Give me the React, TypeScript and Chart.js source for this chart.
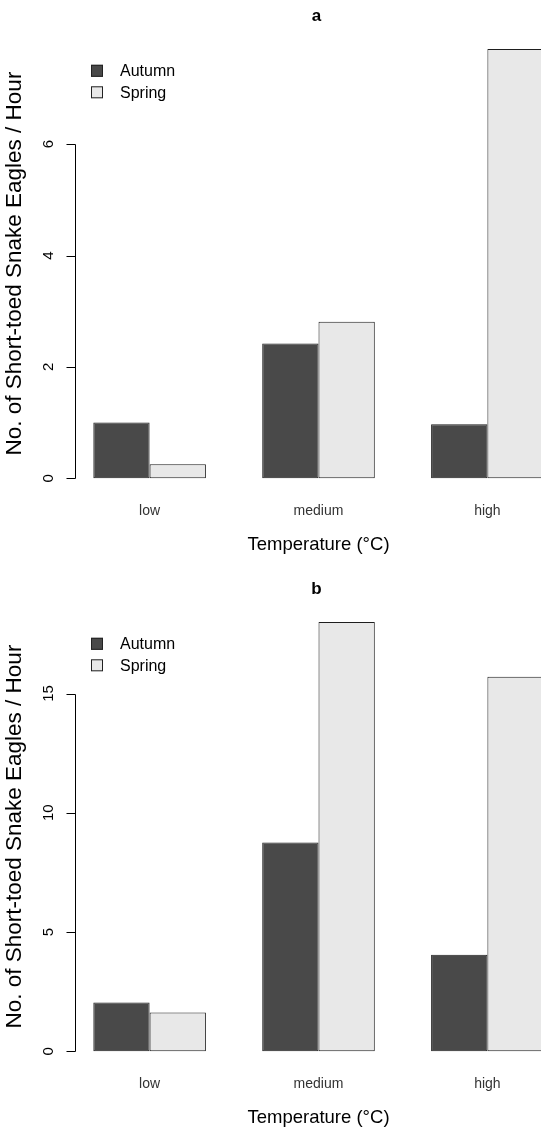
import React, { useEffect, useRef } from "react";
import { Chart, registerables } from "chart.js";

Chart.register(...registerables);

const categories = ["low", "medium", "high"];
const seriesNames = ["Autumn", "Spring"];
const autumnA = [1.0, 2.42, 0.97];
const springA = [0.25, 2.81, 7.71];
const autumnB = [2.04, 8.75, 4.05];
const springB = [1.62, 18.0, 15.7];
const yTicksA = [0, 2, 4, 6];
const yTicksB = [0, 5, 10, 15];
const panelTitles = ["a", "b"];
const xTitle = "Temperature (°C)";
const yTitle = "No. of Short-toed Snake Eagles / Hour";

const FONT = '"Liberation Sans", Arial, Helvetica, sans-serif';
const CW = 563;
const CH = 573;
const PANEL_OFFSET = 573.4;

function makePlugin(title: string) {
  return {
    id: "rstyle",
    afterDraw(chart: any) {
      const { ctx, chartArea: ca } = chart;
      const x = chart.scales.x;
      const y = chart.scales.y;
      ctx.save();
      ctx.fillStyle = "#000";
      ctx.strokeStyle = "#000";
      ctx.lineWidth = 1;

      // title
      ctx.font = "bold 17px " + FONT;
      ctx.textAlign = "center";
      ctx.textBaseline = "alphabetic";
      ctx.fillText(title, (ca.left + ca.right) / 2 - 2, ca.top - 11.1);

      // y axis line + ticks
      const yt = y.ticks.map((t: any) => t.value);
      const ax = Math.round(ca.left) + 0.5;
      const y0 = y.getPixelForValue(yt[0]);
      const y1 = y.getPixelForValue(yt[yt.length - 1]);
      ctx.beginPath();
      ctx.moveTo(ax, Math.round(y0) + 0.5);
      ctx.lineTo(ax, Math.round(y1) + 0.5);
      yt.forEach((v: number) => {
        const py = Math.round(y.getPixelForValue(v)) + 0.5;
        ctx.moveTo(ax - 9, py);
        ctx.lineTo(ax, py);
      });
      ctx.stroke();

      // y tick labels (rotated)
      ctx.font = "15px " + FONT;
      ctx.textAlign = "center";
      ctx.textBaseline = "alphabetic";
      y.ticks.forEach((t: any) => {
        const py = y.getPixelForValue(t.value);
        ctx.save();
        ctx.translate(ca.left - 22, py);
        ctx.rotate(-Math.PI / 2);
        ctx.fillText(String(t.value), 0, 0);
        ctx.restore();
      });

      // y title
      ctx.font = "22.5px " + FONT;
      ctx.save();
      ctx.translate(ca.left - 54, (ca.top + ca.bottom) / 2);
      ctx.rotate(-Math.PI / 2);
      ctx.fillText(yTitle, 0, 0);
      ctx.restore();

      // category labels
      ctx.font = "14px " + FONT;
      ctx.fillStyle = "#333";
      x.ticks.forEach((t: any, i: number) => {
        ctx.fillText(categories[i], x.getPixelForValue(t.value), ca.bottom + 20);
      });

      // x title
      ctx.fillStyle = "#000";
      ctx.font = "18.5px " + FONT;
      ctx.fillText(xTitle, (ca.left + ca.right) / 2, ca.bottom + 55);

      // legend
      ctx.font = "16px " + FONT;
      ctx.textAlign = "left";
      ctx.textBaseline = "middle";
      chart.data.datasets.forEach((ds: any, i: number) => {
        const cy = ca.top + 39 + i * 21.5;
        ctx.fillStyle = ds.backgroundColor;
        ctx.fillRect(91, cy - 6, 12, 12);
        ctx.strokeStyle = "#222";
        ctx.strokeRect(91.5, cy - 5.5, 11, 11);
        ctx.fillStyle = "#000";
        ctx.fillText(ds.label, 120, cy + 1);
      });
      ctx.restore();
    },
  };
}

function Panel({ title, autumn, spring, yTicks }: any) {
  const ref = useRef<HTMLCanvasElement | null>(null);
  useEffect(() => {
    if (!ref.current) return;
    const maxV = Math.max(...autumn, ...spring);
    const mk = (vals: number[]) =>
      categories.map((c, i) => ({ x: 2 + 3 * i, y: vals[i] }));
    const chart = new Chart(ref.current, {
      type: "bar",
      data: {
        datasets: [
          {
            label: seriesNames[0],
            data: mk(autumn),
            backgroundColor: "#494949",
            borderColor: "#1e1e1e",
            borderWidth: 1,
            borderSkipped: false,
            categoryPercentage: 2 / 3,
            barPercentage: 1,
          },
          {
            label: seriesNames[1],
            data: mk(spring),
            backgroundColor: "#e8e8e8",
            borderColor: "#1e1e1e",
            borderWidth: 1,
            borderSkipped: false,
            categoryPercentage: 2 / 3,
            barPercentage: 1,
          },
        ],
      } as any,
      options: {
        animation: false,
        responsive: false,
        events: [],
        layout: {
          padding: { left: 75.3, top: 31.8, right: CW - 561.7, bottom: CH - 495.4 },
        },
        plugins: {
          legend: { display: false },
          tooltip: { enabled: false },
          title: { display: false },
        },
        scales: {
          x: {
            type: "linear",
            display: false,
            offset: false,
            min: 0.68,
            max: 9.32,
            afterBuildTicks: (s: any) => {
              s.ticks = categories.map((c, i) => ({ value: 2 + 3 * i }));
            },
            ticks: { callback: (_v: any, i: number) => categories[i] },
          },
          y: {
            type: "linear",
            display: false,
            min: -0.04 * maxV,
            max: 1.04 * maxV,
            afterBuildTicks: (s: any) => {
              s.ticks = yTicks.map((v: number) => ({ value: v }));
            },
          },
        },
      } as any,
      plugins: [makePlugin(title)],
    });
    return () => chart.destroy();
  }, [title, autumn, spring, yTicks]);
  return (
    <canvas
      ref={ref}
      width={CW}
      height={CH}
      style={{ display: "block", width: CW, height: CH }}
    />
  );
}

export default function App() {
  return (
    <div
      style={{
        position: "absolute",
        left: 0,
        top: 0,
        width: 541,
        height: 1129,
        overflow: "hidden",
        background: "#fff",
      }}
    >
      <div style={{ position: "absolute", left: 0, top: 0 }}>
        <Panel title={panelTitles[0]} autumn={autumnA} spring={springA} yTicks={yTicksA} />
      </div>
      <div style={{ position: "absolute", left: 0, top: PANEL_OFFSET }}>
        <Panel title={panelTitles[1]} autumn={autumnB} spring={springB} yTicks={yTicksB} />
      </div>
    </div>
  );
}
